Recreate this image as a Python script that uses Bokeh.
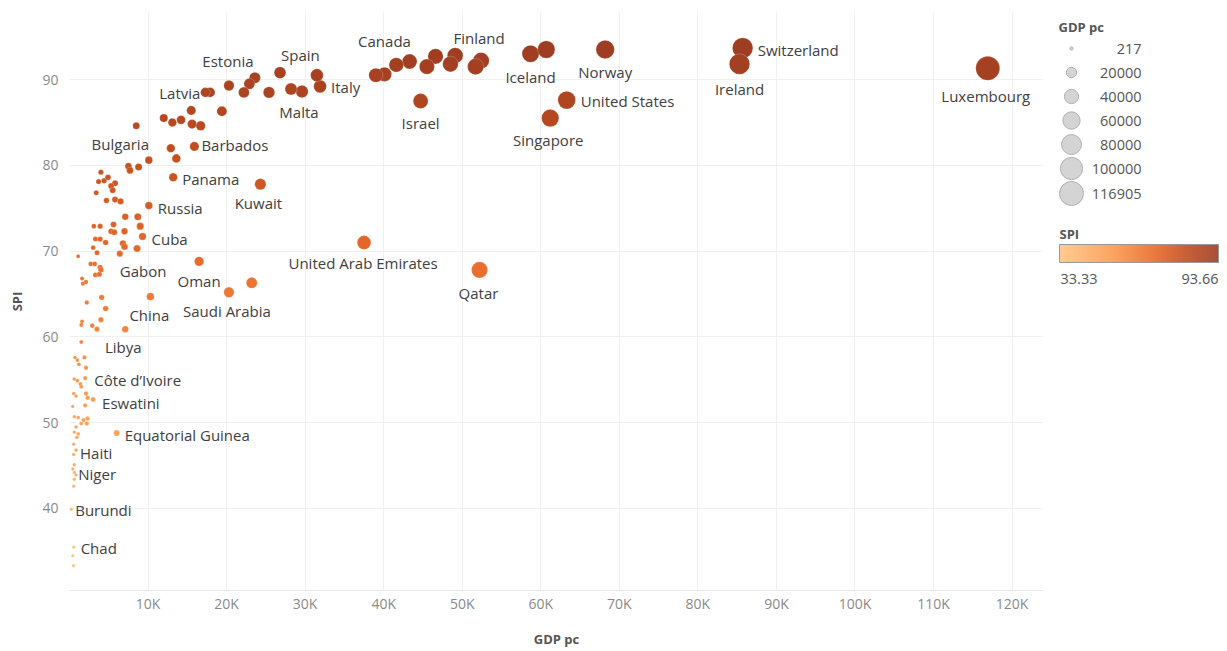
import numpy as np
from bokeh.plotting import figure
from bokeh.models import ColumnDataSource, LinearColorMapper, Range1d, FixedTicker, CustomJSTickFormatter
from bokeh.layouts import row
from bokeh.core.properties import value
from bokeh.embed import file_html
from bokeh.resources import INLINE

# ---------------- data ----------------
country = [
    "Luxembourg", "Switzerland", "Ireland", "Norway", "United States", "Singapore", "Iceland", "",
    "Finland", "", "", "", "", "", "", "", "Canada", "", "Israel", "Qatar", "United Arab Emirates",
    "Kuwait", "Oman", "Saudi Arabia", "", "China", "Italy", "", "Malta", "", "Spain", "", "", "", "",
    "Estonia", "", "Latvia", "", "", "", "", "", "", "", "Barbados", "", "", "Bulgaria", "", "", "", "",
    "Panama", "Russia", "", "", "", "", "", "", "", "", "", "", "", "", "", "", "", "", "", "", "", "",
    "Cuba", "", "", "", "", "", "Gabon", "", "", "", "", "", "", "", "", "", "", "", "", "", "", "", "",
    "", "", "", "", "", "Libya", "", "", "", "", "", "", "", "", "", "Côte d’Ivoire", "", "", "", "", "",
    "Eswatini", "", "", "", "", "", "", "", "", "Equatorial Guinea", "", "", "", "", "", "Haiti", "", "",
    "", "Niger", "", "", "", "Burundi", "Chad", "", "",
]
gdp_pc = [
    116905, 85700, 85300, 68200, 63300, 61200, 58700, 60700,
    52400, 51700, 49100, 48500, 46600, 45500, 43300, 41600, 40100, 39000, 44700, 52200, 37500,
    24300, 16500, 20300, 23200, 10300, 31900, 31500, 29600, 28200, 26800, 25400, 23600, 22900, 22200,
    20300, 17900, 17300, 19400, 15500, 16700, 15600, 14200, 13100, 12000, 15900, 12900, 13600, 8500, 10100, 8800, 7500, 7700,
    13200, 10100, 4000, 3700, 4400, 4900, 5800, 5300, 5500, 3400, 4700, 5800, 6500, 7100, 8700, 3100, 3900, 5600, 5300, 5700, 7000, 9000,
    9300, 3300, 3900, 4600, 6800, 7000, 8600, 3000, 3500, 6400, 1100, 2700, 3200, 3900, 4000, 3300, 3800, 1600, 2100, 1700, 4100, 2200, 4600,
    4000, 1600, 1500, 2900, 3500, 7100, 1500, 700, 1000, 1900, 1200, 2100, 600, 1000, 1400, 2000, 1500, 530, 830, 2100, 2300,
    3000, 410, 2000, 610, 1100, 1800, 2300, 1500, 2200, 6000, 830, 610, 1100, 950, 530, 830, 530, 610,
    410, 610, 830, 610, 530, 217, 530, 410, 500,
]
spi = [
    91.3, 93.66, 91.8, 93.5, 87.6, 85.5, 93.0, 93.5,
    92.2, 91.5, 92.8, 91.8, 92.7, 91.5, 92.1, 91.7, 90.6, 90.5, 87.5, 67.8, 71.0,
    77.8, 68.8, 65.2, 66.3, 64.7, 89.2, 90.5, 88.6, 88.9, 90.8, 88.5, 90.2, 89.5, 88.5,
    89.3, 88.5, 88.5, 86.3, 86.4, 84.6, 84.8, 85.3, 85.0, 85.5, 82.2, 82.0, 80.8, 84.6, 80.6, 79.8, 79.9, 79.4,
    78.6, 75.3, 79.2, 78.1, 78.2, 78.6, 77.9, 77.6, 77.1, 76.8, 75.9, 76.0, 75.8, 74.0, 74.0, 72.9, 72.9, 73.1, 72.3, 72.2, 72.3, 72.9,
    71.7, 71.4, 71.4, 71.0, 70.9, 70.5, 70.3, 70.4, 69.8, 69.7, 69.4, 68.5, 68.5, 68.1, 67.8, 67.2, 67.3, 66.8, 66.4, 66.2, 64.6, 64.0, 63.3,
    62.0, 61.8, 61.4, 61.3, 60.9, 60.9, 59.4, 57.6, 57.3, 57.6, 56.8, 56.4, 55.1, 54.9, 54.5, 55.2, 54.2, 53.4, 53.1, 53.4, 52.9,
    52.7, 51.9, 52.0, 50.7, 50.6, 50.3, 50.5, 49.9, 49.9, 48.8, 49.5, 48.9, 48.7, 48.3, 47.5, 46.8, 46.3, 45.1,
    44.6, 44.2, 43.9, 43.4, 42.6, 39.9, 35.5, 34.5, 33.33,
]
x_ticks = [10000, 20000, 30000, 40000, 50000, 60000, 70000, 80000, 90000, 100000, 110000, 120000]
y_ticks = [40, 50, 60, 70, 80, 90]
size_legend_values = [217, 20000, 40000, 60000, 80000, 100000, 116905]
spi_min, spi_max = 33.33, 93.66

# ---------------- label placement (layout, screen px) ----------------
label_pos = {
    "Luxembourg": ("center", -2, 28), "Switzerland": ("left", 15, 2), "Ireland": ("center", 0, 25),
    "Norway": ("center", 0, 23), "United States": ("left", 14, 1), "Singapore": ("center", -2, 22),
    "Iceland": ("center", 0, 23), "Finland": ("center", -2, -23), "Canada": ("center", 0, -33),
    "Israel": ("center", 0, 22), "Qatar": ("center", -1, 23), "United Arab Emirates": ("center", -1, 20),
    "Estonia": ("center", -1, -25), "Spain": ("left", 1, -18), "Italy": ("left", 11, 1),
    "Malta": ("center", -3, 20), "Latvia": ("right", -5, 1), "Barbados": ("left", 7, -1),
    "Bulgaria": ("center", -16, 18), "Panama": ("left", 9, 2), "Russia": ("left", 9, 2),
    "Kuwait": ("center", -2, 19), "Cuba": ("left", 9, 2), "Gabon": ("center", 6, 22),
    "Oman": ("center", 0, 20), "Saudi Arabia": ("center", -2, 19), "China": ("center", -1, 18),
    "Libya": ("center", -2, 18), "Côte d’Ivoire": ("left", 9, 2), "Eswatini": ("left", 9, 3),
    "Equatorial Guinea": ("left", 8, 2), "Haiti": ("left", 4, 3), "Niger": ("left", 4, 2),
    "Burundi": ("left", 4, 1), "Chad": ("left", 7, 1),
}

FONT = value("Open Sans")

# colour palette (Tableau-like orange sequential)
stops = [(0.0, "#FFC685"), (0.33, "#FC9A50"), (0.6, "#E86A2A"), (0.8, "#C24E1F"), (1.0, "#9E3D22")]
def hex2rgb(h):
    return np.array([int(h[i:i + 2], 16) for i in (1, 3, 5)], dtype=float)
pos = np.array([s[0] for s in stops])
cols = np.array([hex2rgb(s[1]) for s in stops])
tt = np.linspace(0, 1, 256)
palette = ["#%02x%02x%02x" % tuple(int(round(np.interp(t, pos, cols[:, k]))) for k in range(3)) for t in tt]
mapper = LinearColorMapper(palette=palette, low=spi_min, high=spi_max)

gmax = max(gdp_pc)
def diam(g):
    return float(np.sqrt(9 + 567 * g / gmax))

src = ColumnDataSource(dict(gdp=gdp_pc, spi=spi, size=[diam(g) for g in gdp_pc]))

lab_idx = [i for i, n in enumerate(country) if n]
lab_src = ColumnDataSource(dict(
    gdp=[gdp_pc[i] for i in lab_idx],
    spi=[spi[i] for i in lab_idx],
    name=[country[i] for i in lab_idx],
    align=[label_pos[country[i]][0] for i in lab_idx],
    dx=[label_pos[country[i]][1] for i in lab_idx],
    dy=[label_pos[country[i]][2] for i in lab_idx],
))

# ---------------- main figure ----------------
p = figure(width=1050, height=651, x_range=Range1d(0, 124000), y_range=Range1d(30.44, 97.81),
           toolbar_location=None, output_backend="svg",
           min_border_left=69, min_border_right=7, min_border_top=12, min_border_bottom=61)
p.outline_line_color = None
p.background_fill_color = "white"
p.border_fill_color = "white"

p.xaxis.ticker = FixedTicker(ticks=x_ticks)
p.xaxis.formatter = CustomJSTickFormatter(code="return (tick/1000) + 'K';")
p.yaxis.ticker = FixedTicker(ticks=y_ticks)
p.xgrid.ticker = FixedTicker(ticks=[0] + x_ticks)
p.ygrid.ticker = FixedTicker(ticks=y_ticks)
p.grid.grid_line_color = "#f0f0f0"
p.grid.grid_line_width = 1

for ax in (p.xaxis, p.yaxis):
    ax.major_tick_line_color = None
    ax.minor_tick_line_color = None
    ax.major_tick_out = 0
    ax.major_tick_in = 0
    ax.minor_tick_out = 0
    ax.minor_tick_in = 0
    ax.major_label_text_font = "Open Sans"
    ax.major_label_text_color = "#8a8a8a"
    ax.major_label_text_font_size = "14px"
    ax.axis_label_text_font = "Open Sans"
    ax.axis_label_text_color = "#555555"
    ax.axis_label_text_font_size = "13px"
    ax.axis_label_text_font_style = "bold"
p.xaxis.axis_line_color = "#e8e8e8"
p.yaxis.axis_line_color = None
p.xaxis.axis_label = "GDP pc"
p.yaxis.axis_label = "SPI"
p.xaxis.major_label_standoff = 3
p.xaxis.axis_label_standoff = 14
p.yaxis.major_label_standoff = 11
p.yaxis.axis_label_standoff = 13

p.scatter(x="gdp", y="spi", size="size", source=src,
          fill_color={"field": "spi", "transform": mapper}, fill_alpha=1.0,
          line_color="white", line_alpha=0.35, line_width=0.6)

p.text(x="gdp", y="spi", text="name", source=lab_src, x_offset="dx", y_offset="dy",
       text_align="align", text_baseline="middle", text_font=FONT,
       text_font_size="15px", text_color="#404040")

# ---------------- legend figure (coordinates = page pixels) ----------------
lg = figure(width=177, height=651, x_range=Range1d(0, 177), y_range=Range1d(590, 12),
            toolbar_location=None, output_backend="svg",
            min_border_left=0, min_border_right=0, min_border_top=12, min_border_bottom=61,
            x_axis_type=None, y_axis_type=None)
lg.outline_line_color = None
lg.grid.visible = False

lg.text(x=[8], y=[26], text=["GDP pc"], text_font=FONT, text_font_size="13px",
        text_font_style="bold", text_color="#555555", text_baseline="middle", text_align="left")
rows_y = [48, 72, 96, 120, 144, 168, 193]
lg.scatter(x=[21] * len(size_legend_values), y=rows_y,
           size=[diam(v) for v in size_legend_values],
           fill_color="#d4d4d4", line_color="#b0b0b0", line_width=1)
lg.text(x=[91] * len(size_legend_values), y=rows_y, text=[str(v) for v in size_legend_values],
        text_font=FONT, text_font_size="14.5px", text_color="#555555",
        text_baseline="middle", text_align="right")

lg.text(x=[9], y=[233], text=["SPI"], text_font=FONT, text_font_size="13px",
        text_font_style="bold", text_color="#555555", text_baseline="middle", text_align="left")
nseg = 159
edges = np.linspace(9, 168, nseg + 1)
seg_vals = np.linspace(spi_min, spi_max, nseg)
seg_cols = [palette[int(round((v - spi_min) / (spi_max - spi_min) * 255))] for v in seg_vals]
lg.quad(left=edges[:-1], right=edges[1:] + 0.3, top=[244] * nseg, bottom=[262] * nseg,
        fill_color=seg_cols, line_color=None)
lg.quad(left=[9], right=[168], top=[244], bottom=[262], fill_color=None, line_color="#999999", line_width=1)
lg.text(x=[10], y=[278], text=["%.2f" % spi_min], text_font=FONT, text_font_size="14.5px",
        text_color="#555555", text_baseline="middle", text_align="left")
lg.text(x=[168], y=[278], text=["%.2f" % spi_max], text_font=FONT, text_font_size="14.5px",
        text_color="#555555", text_baseline="middle", text_align="right")

layout = row(p, lg)
open("out.html", "w").write(file_html(layout, INLINE))
